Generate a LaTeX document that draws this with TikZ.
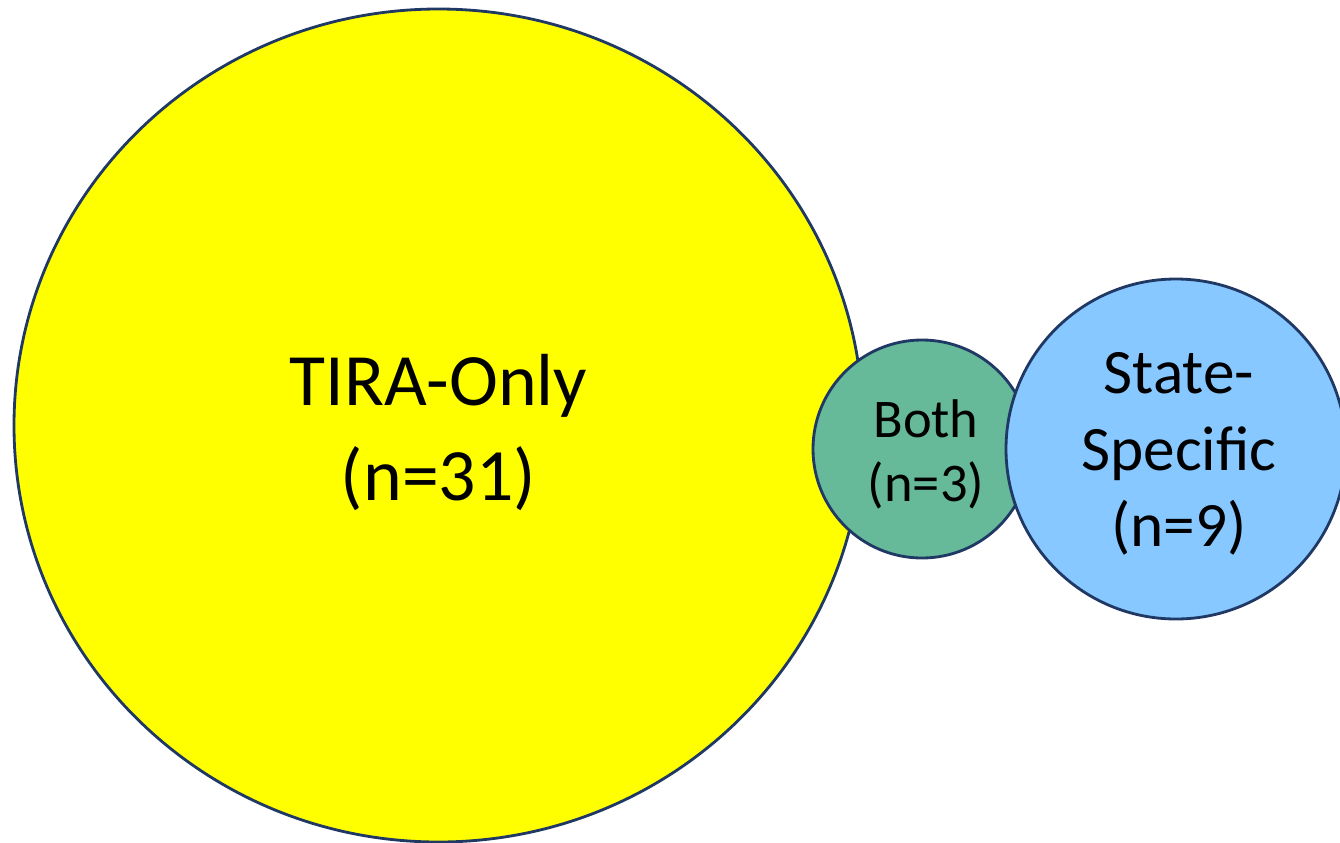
\documentclass[tikz,border=0pt]{standalone}
\usepackage{fontspec}
\setmainfont{Carlito}
\usetikzlibrary{positioning,shapes.geometric}
\definecolor{tirayellow}{HTML}{FFFF00}
\definecolor{bothgreen}{HTML}{66B999}
\definecolor{stateblue}{HTML}{86C8FF}
\definecolor{rimnavy}{HTML}{1F3864}
\tikzset{
    every picture/.style={line width=0.8pt},
    setcircle/.style={circle,draw=rimnavy,inner sep=0pt},
    setlabel/.style={align=center,inner sep=0pt}
}
\begin{document}
\begin{tikzpicture}
    \useasboundingbox (0,0) rectangle (13.4,8.42);
    % the three sets
    \node[setcircle,ellipse,fill=tirayellow,minimum width=8.49cm,minimum height=8.33cm] (tira) at (4.385,4.165) {};
    \node[setcircle,fill=bothgreen,minimum size=2.18cm] (both) at (9.22,3.93) {};
    \node[setcircle,fill=stateblue,minimum size=3.40cm] (state) at (11.76,3.93) {};
    % labels
    \node[setlabel,font=\fontsize{21}{27.2}\selectfont] (tiratext) at ([yshift=-0.07cm]tira.center) {TIRA-Only\\(n=31)};
    \node[setlabel,font=\fontsize{15.5}{18.3}\selectfont] (bothtext) at ([xshift=0.04cm,yshift=-0.055cm]both.center) {Both\\(n=3)};
    \node[setlabel,font=\fontsize{18}{21.7}\selectfont] (statetext) at ([xshift=0.03cm,yshift=-0.05cm]state.center) {State-\\Specific\\(n=9)};
\end{tikzpicture}
\end{document}
